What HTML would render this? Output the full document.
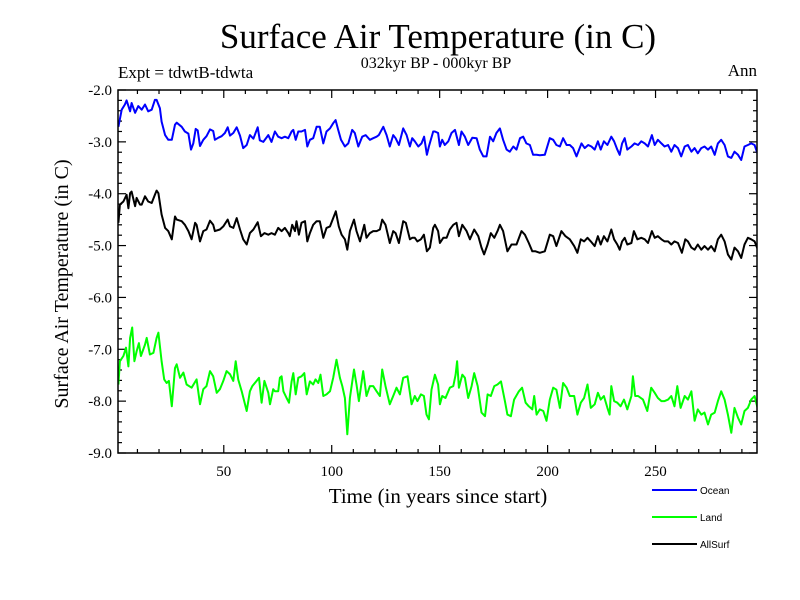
<!DOCTYPE html>
<html><head><meta charset="utf-8"><style>
body{margin:0;background:#fff;}
svg{display:block;}
text{font-family:"Liberation Serif",serif;fill:#000;}
</style></head><body>
<svg id="chart" width="800" height="600">
<text x="438" y="48" font-size="35" text-anchor="middle">Surface Air Temperature (in C)</text>
<text x="436" y="68" font-size="16" text-anchor="middle">032kyr BP - 000kyr BP</text>
<text x="118" y="78" font-size="17">Expt = tdwtB-tdwta</text>
<text x="757" y="76" font-size="17" text-anchor="end">Ann</text>
<text transform="translate(68,284) rotate(-90)" font-size="20" text-anchor="middle">Surface Air Temperature (in C)</text>
<text x="438" y="503" font-size="21" text-anchor="middle">Time (in years since start)</text>
<defs><clipPath id="clip"><rect x="118" y="90" width="639" height="363"/></clipPath></defs>
<g id="ticks"></g>
<g id="series" clip-path="url(#clip)"></g>
<rect x="118" y="90" width="639" height="363" fill="none" stroke="#000" stroke-width="1.5"/>
<g id="legend"></g>
</svg>
<script>
const yTicks=[-2,-3,-4,-5,-6,-7,-8,-9];
const yTickLabels=["-2.0","-3.0","-4.0","-5.0","-6.0","-7.0","-8.0","-9.0"];
const xTicks=[50,100,150,200,250];
const xTickLabels=["50","100","150","200","250"];
const seriesNames=["Ocean","Land","AllSurf"];
const seriesColors=["#0000ff","#00ff00","#000000"];

const oceanYears=[1.2,2.7,4.2,5.0,6.6,7.3,8.9,10.4,12.0,13.5,15.0,16.6,18.1,18.9,20.4,21.2,22.8,24.3,25.9,27.4,28.2,30.5,32.0,33.6,34.8,35.9,37.0,37.9,39.0,40.5,42.0,43.6,45.1,45.9,47.5,49.0,50.5,51.8,52.9,54.4,56.0,57.5,59.0,60.6,62.1,63.7,65.7,66.7,68.3,70.6,72.1,
73.7,75.2,76.8,78.3,79.9,81.4,82.2,83.3,84.5,86.0,87.6,88.7,89.9,91.4,93.0,94.5,96.1,97.6,99.2,100.7,101.8,103.0,104.3,106.1,107.7,109.5,110.7,112.3,114.1,115.7,117.7,119.2,120.8,121.8,123.9,125.4,126.9,128.5,129.6,131.1,133.1,134.7,136.2,137.3,138.5,140.1,141.6,142.8,144.1,145.0,147.0,
147.8,149.3,150.1,151.2,152.4,154.0,155.5,157.1,158.9,160.1,161.7,163.2,165.1,167.1,168.6,170.2,171.7,173.3,174.8,176.3,177.9,179.4,181.0,182.5,184.1,185.6,187.2,188.7,190.2,191.8,193.3,194.9,196.4,198.7,201.0,202.6,204.1,205.7,207.2,208.8,210.3,211.8,213.4,215.7,217.2,218.8,220.3,
221.8,223.3,224.6,226.1,227.7,229.5,230.8,232.3,233.4,234.5,235.7,236.9,238.8,240.3,241.9,243.4,245.0,246.5,248.3,249.6,251.1,252.7,254.2,255.8,257.3,258.8,260.4,261.9,263.5,265.0,266.6,268.1,269.6,271.2,272.7,274.3,275.8,277.4,278.9,280.4,282.0,283.5,285.1,286.6,288.2,289.7,291.2,292.8,294.3,295.9,297.4];
const oceanValues=[-2.71,-2.38,-2.28,-2.20,-2.41,-2.25,-2.44,-2.31,-2.38,-2.28,-2.41,-2.38,-2.19,-2.19,-2.35,-2.61,-2.87,-2.96,-2.96,-2.67,-2.63,-2.71,-2.80,-2.84,-3.15,-3.03,-2.75,-2.78,-3.08,-2.96,-2.89,-2.76,-2.79,-2.96,-2.92,-2.89,-2.83,-2.72,-2.88,-2.83,-2.72,-2.88,-3.12,-3.06,-2.87,-2.94,-2.72,-2.97,-3.00,-2.87,-3.00,
-2.80,-2.90,-2.93,-2.90,-2.93,-2.80,-2.77,-2.96,-2.80,-2.80,-2.77,-3.09,-2.96,-2.93,-2.71,-2.71,-3.03,-2.80,-2.74,-2.64,-2.58,-2.77,-2.96,-3.09,-3.03,-2.77,-2.83,-3.09,-2.90,-2.87,-2.96,-2.93,-2.90,-2.87,-2.71,-2.87,-3.09,-2.87,-2.93,-3.06,-2.74,-2.87,-3.09,-2.93,-2.99,-3.09,-3.03,-2.90,-3.25,-3.09,-2.80,
-2.80,-2.83,-3.09,-2.96,-3.06,-2.99,-2.83,-2.77,-3.06,-2.80,-2.90,-3.06,-2.92,-2.93,-3.15,-3.28,-3.28,-2.90,-2.99,-2.83,-2.74,-2.96,-3.15,-3.19,-3.09,-3.15,-2.93,-2.90,-3.03,-3.06,-3.25,-3.25,-3.26,-3.25,-2.93,-2.96,-3.06,-3.09,-2.93,-3.06,-3.06,-3.12,-3.28,-3.03,-3.12,-3.06,-3.09,
-3.15,-2.99,-3.15,-2.99,-3.06,-2.90,-2.99,-3.15,-3.25,-3.03,-2.93,-3.15,-3.09,-3.03,-3.06,-2.99,-3.03,-3.09,-2.87,-3.06,-2.96,-3.03,-3.09,-3.06,-3.19,-3.06,-3.12,-3.28,-3.09,-3.06,-3.19,-3.12,-3.22,-3.12,-3.09,-3.15,-3.09,-3.25,-3.03,-2.96,-3.06,-3.28,-3.31,-3.19,-3.25,-3.35,-3.09,-3.06,-3.03,-3.06,-3.25];

const allYears=[1.2,1.9,3.5,5.0,5.8,6.6,7.3,8.9,9.6,11.2,12.0,13.5,15.0,16.6,18.1,18.9,19.7,21.2,22.8,24.3,25.9,27.4,28.2,30.5,32.0,33.6,35.1,36.7,37.4,39.0,40.5,42.0,43.6,45.1,45.9,48.2,49.8,51.8,52.9,54.4,56.0,57.5,59.0,60.6,62.1,63.7,65.7,67.2,68.8,70.6,72.1,
73.7,75.2,76.8,78.3,79.9,80.6,81.7,83.0,83.7,84.8,86.0,87.6,88.7,89.9,91.4,93.0,94.5,96.1,97.6,99.2,100.7,101.9,103.3,104.6,106.1,107.2,108.4,110.3,111.5,113.1,115.1,116.1,117.7,119.2,120.8,122.3,123.4,124.9,126.9,128.5,129.6,131.1,133.1,134.3,136.2,137.3,138.5,139.7,141.3,142.7,144.1,145.5,147.0,
147.8,149.3,150.1,151.7,153.2,154.7,156.3,157.8,158.9,160.5,162.5,164.0,166.0,167.9,169.4,170.6,172.2,173.7,175.3,176.8,177.9,179.4,181.4,183.3,185.6,187.9,189.5,191.3,192.9,194.4,196.4,198.7,201.0,202.6,204.1,206.4,208.3,210.3,212.3,213.8,215.4,216.9,218.5,220.0,
221.8,223.3,224.6,226.1,227.7,229.5,230.8,232.3,233.4,234.5,235.7,236.9,238.8,240.0,241.6,243.4,245.0,246.5,248.3,249.6,251.1,252.7,254.2,255.8,257.3,258.8,260.4,262.2,263.8,265.0,266.6,268.1,269.6,271.2,272.7,274.3,275.8,277.4,278.9,280.4,282.0,283.5,285.1,286.6,288.2,289.7,291.2,292.8,294.3,295.9,297.4];
const allValues=[-4.56,-4.21,-4.15,-4.02,-4.28,-3.99,-3.96,-4.24,-4.08,-4.21,-4.21,-4.05,-4.15,-4.18,-4.02,-3.94,-3.99,-4.40,-4.66,-4.72,-4.88,-4.44,-4.50,-4.53,-4.60,-4.72,-4.88,-4.56,-4.60,-4.92,-4.72,-4.69,-4.52,-4.60,-4.72,-4.69,-4.63,-4.50,-4.63,-4.66,-4.47,-4.69,-4.88,-4.98,-4.76,-4.69,-4.55,-4.82,-4.76,-4.79,-4.76,
-4.79,-4.66,-4.72,-4.66,-4.76,-4.82,-4.60,-4.72,-4.53,-4.79,-4.56,-4.53,-4.92,-4.76,-4.60,-4.53,-4.53,-4.85,-4.66,-4.63,-4.47,-4.34,-4.63,-4.79,-4.88,-5.08,-4.72,-4.50,-4.72,-4.92,-4.60,-4.85,-4.76,-4.72,-4.72,-4.69,-4.50,-4.60,-4.95,-4.72,-4.76,-4.95,-4.53,-4.56,-4.88,-4.85,-4.85,-4.92,-4.88,-4.79,-5.11,-5.04,-4.66,
-4.60,-4.72,-4.95,-4.85,-4.85,-4.69,-4.60,-4.56,-4.82,-4.60,-4.72,-4.88,-4.69,-4.82,-5.04,-5.17,-4.98,-4.76,-4.85,-4.72,-4.60,-4.72,-5.11,-4.98,-4.98,-4.72,-4.79,-4.95,-5.11,-5.11,-5.14,-5.11,-4.79,-4.82,-5.01,-4.72,-4.82,-4.88,-5.01,-5.14,-4.88,-4.92,-4.85,-4.92,
-5.01,-4.82,-4.98,-4.82,-4.92,-4.69,-4.88,-4.98,-5.08,-4.92,-4.85,-4.98,-4.95,-4.72,-4.88,-4.85,-4.88,-4.95,-4.72,-4.85,-4.82,-4.88,-4.92,-4.92,-4.98,-4.92,-4.95,-5.14,-4.88,-4.92,-5.04,-5.08,-4.98,-5.08,-5.01,-5.08,-5.01,-5.11,-4.88,-4.79,-4.92,-5.17,-5.27,-5.04,-5.11,-5.24,-4.98,-4.85,-4.88,-4.92,-5.08];

const landYears=[1.2,1.9,3.5,4.7,5.8,6.6,7.6,8.6,9.6,10.7,11.6,13.5,14.3,15.8,17.4,18.9,19.7,21.2,22.4,23.5,24.6,25.9,27.4,28.2,29.7,31.3,32.8,35.1,37.4,39.0,40.5,42.0,43.6,45.1,46.7,48.2,49.8,51.3,52.9,54.4,55.5,56.7,58.3,60.6,62.1,63.2,65.2,66.3,67.5,68.8,70.6,71.4,72.9,
73.7,75.2,76.0,76.8,77.6,79.1,80.2,81.4,82.2,83.3,84.5,86.0,87.3,88.4,89.9,91.4,92.5,93.8,94.8,96.1,97.6,99.2,100.7,102.2,103.8,104.9,106.1,107.2,108.4,110.3,111.5,112.6,114.6,116.1,117.7,119.2,120.8,122.3,123.4,124.9,126.9,128.5,130.0,131.6,133.1,135.1,137.0,138.5,139.7,141.3,142.7,143.9,145.0,146.2,
147.8,149.3,150.1,151.2,152.7,154.7,156.3,157.4,158.1,158.9,160.5,161.7,163.2,164.8,166.0,167.6,169.4,171.0,172.2,173.7,175.3,176.8,178.4,180.2,181.4,183.0,184.5,186.7,188.2,189.8,191.3,192.9,193.8,194.9,196.4,198.0,199.5,201.0,202.6,204.1,205.7,207.2,208.8,210.3,212.3,213.8,215.4,216.9,218.5,220.0,
221.8,223.3,224.6,226.1,227.7,228.7,229.5,230.8,232.3,233.8,235.4,236.9,238.8,239.5,240.6,241.9,244.2,246.2,248.0,249.6,251.1,252.7,254.2,255.8,257.3,258.8,260.1,261.6,263.5,265.0,266.6,268.1,269.6,271.2,272.7,274.3,275.8,277.4,278.9,280.4,282.0,283.5,285.1,286.6,288.2,289.7,291.2,292.8,294.3,295.9,297.4];
const landValues=[-7.68,-7.23,-7.13,-6.97,-7.33,-6.78,-6.58,-7.23,-7.04,-6.88,-7.13,-6.91,-6.78,-7.10,-7.07,-6.78,-6.68,-7.23,-7.58,-7.65,-7.61,-8.10,-7.36,-7.29,-7.55,-7.45,-7.68,-7.74,-7.58,-8.06,-7.77,-7.71,-7.42,-7.52,-7.84,-7.77,-7.61,-7.42,-7.48,-7.61,-7.23,-7.58,-7.81,-8.19,-7.81,-7.71,-7.61,-7.55,-8.03,-7.61,-7.84,-8.06,-7.77,
-7.81,-7.81,-7.55,-7.52,-7.81,-7.94,-8.03,-7.62,-7.46,-7.87,-7.55,-7.52,-7.46,-7.87,-7.62,-7.68,-7.58,-7.65,-7.49,-7.90,-7.87,-7.81,-7.55,-7.20,-7.55,-7.71,-7.94,-8.64,-7.94,-7.39,-7.68,-8.00,-7.42,-7.90,-7.71,-7.71,-7.81,-7.90,-7.39,-7.71,-8.06,-7.90,-7.74,-7.87,-7.55,-7.52,-8.06,-7.90,-8.00,-7.87,-7.90,-8.26,-8.35,-7.78,
-7.49,-7.68,-8.06,-7.90,-7.94,-7.74,-7.71,-7.49,-7.23,-7.74,-7.49,-7.55,-7.94,-7.71,-7.46,-7.71,-8.22,-8.29,-7.87,-7.90,-7.71,-7.68,-7.62,-8.00,-8.26,-8.29,-7.97,-7.81,-7.74,-8.03,-8.10,-8.16,-7.90,-8.26,-8.16,-8.19,-8.38,-7.97,-7.74,-7.78,-8.13,-7.65,-7.74,-7.90,-7.90,-8.26,-8.03,-7.94,-7.68,-8.13,
-8.06,-7.84,-7.97,-7.90,-8.13,-8.26,-7.71,-8.00,-8.03,-8.10,-7.97,-8.16,-7.90,-7.52,-7.90,-7.90,-7.97,-8.19,-7.74,-7.84,-7.94,-8.00,-8.00,-7.97,-7.90,-8.10,-7.71,-8.13,-7.90,-7.97,-7.81,-8.38,-8.16,-8.26,-8.22,-8.45,-8.26,-8.22,-8.00,-7.81,-7.97,-8.26,-8.61,-8.13,-8.32,-8.45,-8.19,-8.13,-7.97,-7.90,-8.16];

const NS="http://www.w3.org/2000/svg";
const X0=118,X1=757,Y0=90,Y1=453,yr0=1,yr1=297,vTop=-2,vBot=-9;
function xs(v){return X0+(v-yr0)/(yr1-yr0)*(X1-X0);}
function ys(v){return Y0+(vTop-v)/(vTop-vBot)*(Y1-Y0);}
function mk(tag,attrs,parent){const e=document.createElementNS(NS,tag);for(const k in attrs)e.setAttribute(k,attrs[k]);parent.appendChild(e);return e;}
const tg=document.getElementById('ticks');
for(let i=0;i<=35;i++){const v=vTop-i*0.2;const y=ys(v);const major=(i%5===0);const L=major?8:4;
 const a=mk('line',{x1:X0,x2:X0+L,y1:y,y2:y,stroke:'#000','stroke-width':1.2},tg);
 
 
 const b=mk('line',{x1:X1,x2:X1-L,y1:y,y2:y,stroke:'#000','stroke-width':1.2},tg);
 
 }
yTicks.forEach((v,i)=>{const t=mk('text',{x:X0-6,y:ys(v)+5,'font-size':15,'text-anchor':'end'},tg);t.textContent=yTickLabels[i];
 
 });
for(let yv=10;yv<yr1;yv+=10){const x=xs(yv);const major=(yv%50===0);const L=major?8:4;
 const a=mk('line',{x1:x,x2:x,y1:Y1,y2:Y1-L,stroke:'#000','stroke-width':1.2},tg);
 
 
 const b=mk('line',{x1:x,x2:x,y1:Y0,y2:Y0+L,stroke:'#000','stroke-width':1.2},tg);
 
 }
xTicks.forEach((v,i)=>{const t=mk('text',{x:xs(v),y:476,'font-size':15,'text-anchor':'middle'},tg);t.textContent=xTickLabels[i];
 
 });
const sg=document.getElementById('series');
const allSeries=[[oceanYears,oceanValues],[landYears,landValues],[allYears,allValues]];
const seriesKeys=['ocean-line','land-line','allsurf-line'];
allSeries.forEach((s,k)=>{const [yy,vv]=s;let d='';for(let i=0;i<yy.length;i++){d+=(i?'L':'M')+xs(yy[i]).toFixed(1)+','+ys(vv[i]).toFixed(1);}
 const p=mk('path',{d:d,fill:'none',stroke:seriesColors[k],'stroke-width':2,'stroke-linejoin':'round'},sg);
 
 });
const lg=document.getElementById('legend');
seriesNames.forEach((n,i)=>{const y=490+i*27;
 const l=mk('line',{x1:652,x2:697,y1:y,y2:y,stroke:seriesColors[i],'stroke-width':2},lg);
 
 
 const t=mk('text',{x:700,y:y+4,'font-size':10,style:'font-family:"Liberation Sans",sans-serif'},lg);t.textContent=n;
 
 });
</script>
</body></html>
